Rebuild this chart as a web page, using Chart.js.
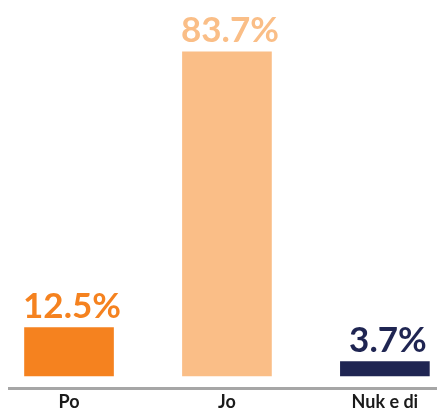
<!DOCTYPE html>
<html lang="sq">

<head>
    <meta charset="UTF-8">
    <title>Po / Jo / Nuk e di</title>
    <style>
        body { margin: 0; background: #fff; }
        #wrap { width: 437px; height: 410px; }
    </style>
</head>

<script src="https://cdn.jsdelivr.net/npm/chart.js"></script>

<body>
    <div id="wrap">
        <canvas id="barChart"></canvas>
    </div>
</body>
<script>
    const labels = ['Po', 'Jo', 'Nuk e di'];
    const values = [12.5, 83.7, 3.7];
    const colors = ['#F5821F', '#FABE87', '#1F2552'];

    // vlerat mbi shtyllat
    const valueLabels = {
        id: 'valueLabels',
        afterDatasetsDraw(chart) {
            const ctx = chart.ctx;
            const meta = chart.getDatasetMeta(0);
            ctx.save();
            ctx.font = 'bold 35px Lato';
            ctx.textAlign = 'center';
            ctx.textBaseline = 'alphabetic';
            meta.data.forEach((bar, i) => {
                ctx.fillStyle = colors[i];
                ctx.fillText(values[i].toFixed(1) + '%', bar.x + 3, bar.y - 10);
            });
            ctx.restore();
        }
    };

    const data = {
        datasets: [{
            data: values.map((v, i) => ({ x: i, y: v })),
            backgroundColor: colors,
            barThickness: 89,
            borderWidth: 0,
        }],
    };

    const config = {
        type: 'bar',
        data: data,
        plugins: [valueLabels],
        options: {
            responsive: true,
            maintainAspectRatio: false,
            animation: false,
            layout: { padding: { top: 3, left: 9, right: 0, bottom: -6 } },
            plugins: { legend: { display: false }, tooltip: { enabled: false } },
            scales: {
                x: {
                    type: 'linear',
                    offset: false,
                    min: -0.38,
                    max: 2.33,
                    afterBuildTicks: axis => { axis.ticks = labels.map((l, i) => ({ value: i })); },
                    ticks: {
                        callback: v => labels[v],
                        color: '#1a1a1a',
                        font: { family: 'Lato', weight: 'bold', size: 18, lineHeight: 1 },
                        padding: 5,
                        maxRotation: 0,
                        autoSkip: false,
                    },
                    grid: { display: false, drawTicks: false },
                    border: { display: true, color: '#A6A6A6', width: 3 },
                },
                y: {
                    min: -3.1,
                    max: 96.3,
                    display: false,
                    grid: { display: false },
                },
            },
        },
    };

    const chart = new Chart(document.getElementById('barChart'), config);
</script>

</html>
